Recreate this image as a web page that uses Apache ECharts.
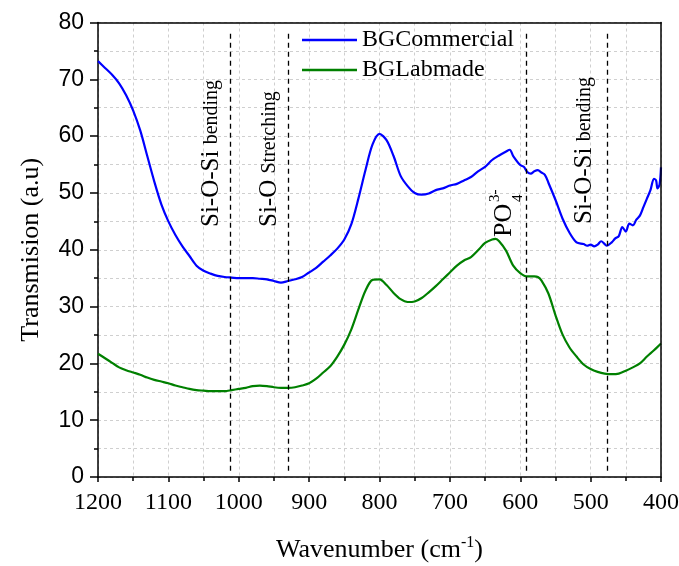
<!DOCTYPE html>
<html>
<head>
<meta charset="utf-8">
<script src="https://cdn.jsdelivr.net/npm/echarts@6/dist/echarts.min.js"></script>
<style>html,body{margin:0;padding:0;background:#fff;}#c{width:679px;height:566px;}</style>
</head>
<body>
<div id="c"></div>
<script>
const commercialWavenumber = [1200,1190,1180,1170,1160,1150,1140,1130,1120,1110,1100,1090,1080,1070,1060,1050,1040,1030,1020,1010,1000,990,980,970,960,950,940,930,920,910,900,890,880,870,860,850,840,830,820,810,800,790,780,770,760,750,740,730,720,710,700,690,680,670,660,650,640,630,620,615,610,600,595,590,585,580,575,570,565,560,550,540,530,520,510,505,500,495,490,485,480,477,470,465,460,455,450,445,440,435,430,425,420,415,410,407,405,402,400];
const commercialValues = [73.2,72.0,70.8,69.3,67.2,64.5,61.0,56.5,52.0,48.0,45.0,42.6,40.6,38.9,37.2,36.3,35.8,35.4,35.2,35.1,35.0,35.0,35.0,34.9,34.8,34.5,34.2,34.5,34.8,35.2,36.0,36.8,37.9,39.0,40.2,41.8,44.5,49.0,54.0,58.5,60.4,59.3,56.5,53.0,51.2,50.0,49.7,49.9,50.5,50.8,51.3,51.6,52.2,52.8,53.8,54.6,55.8,56.6,57.3,57.6,56.5,54.9,54.6,53.7,53.4,53.8,54.0,53.6,53.2,51.8,48.8,45.5,43.0,41.3,41.0,40.7,40.9,40.6,40.9,41.5,41.0,40.7,41.3,42.0,42.4,44.0,43.2,44.6,44.3,45.3,46.0,47.5,49.0,50.5,52.5,52.2,50.8,51.5,54.5];
const labmadeWavenumber = [1200,1190,1180,1170,1160,1150,1140,1130,1120,1110,1100,1090,1080,1070,1060,1050,1040,1030,1020,1010,1000,990,980,970,960,950,940,930,920,910,900,890,880,870,860,850,840,830,820,810,800,790,780,770,760,750,740,730,720,710,700,690,680,670,660,650,640,635,630,620,610,600,590,580,575,570,560,550,540,530,520,510,500,490,480,470,460,450,440,430,420,410,400];
const labmadeValues = [21.7,20.9,20.1,19.3,18.8,18.4,18.0,17.5,17.1,16.8,16.5,16.1,15.8,15.5,15.3,15.2,15.1,15.1,15.1,15.3,15.5,15.7,16.0,16.1,16.0,15.8,15.7,15.7,15.8,16.1,16.5,17.3,18.4,19.5,21.2,23.3,26.0,29.5,32.8,34.7,34.8,33.8,32.4,31.3,30.8,30.9,31.5,32.5,33.6,34.8,36.0,37.2,38.1,38.7,39.9,41.2,41.8,41.9,41.5,39.8,37.2,35.9,35.3,35.3,35.2,34.6,32.3,28.5,25.1,22.8,21.2,19.8,19.0,18.5,18.2,18.1,18.2,18.7,19.3,20.0,21.2,22.3,23.5];
const peakLines = [1012, 929, 592, 477];
const peakTop = 78, peakBottom = 0.6;
const seriesNames = ['BGCommercial', 'BGLabmade'];

const chart = echarts.init(document.getElementById('c'), null, {renderer: 'canvas'});
const zip = (xs, ys) => xs.map((x, i) => [x, ys[i]]);
const serif = 'Liberation Serif';
const sans = 'Liberation Sans';
const frameAxis = {show: true, onZero: false, lineStyle: {color: '#000', width: 1.5}};
const grayDash = {color: '#cfcfcf', type: [3, 3], width: 1};
const annRich = {
  a: {fontFamily: serif, fontSize: 25, fill: '#000', verticalAlign: 'bottom', lineHeight: 26},
  b: {fontFamily: serif, fontSize: 20, fill: '#000', verticalAlign: 'bottom', lineHeight: 26, padding: [0,0,2,0]}
};

const option = {
  animation: false,
  backgroundColor: '#fff',
  grid: {left: 98, right: 18, top: 22.5, bottom: 89, containLabel: false, outerBoundsMode: 'none'},
  legend: {
    orient: 'vertical', left: 297, top: 23, itemGap: 6, itemWidth: 55, itemHeight: 2.5,
    icon: 'rect', textStyle: {fontFamily: serif, fontSize: 24, color: '#000'},
    data: seriesNames
  },
  xAxis: [{
    type: 'value', inverse: true, min: 400, max: 1200, interval: 100,
    axisLine: frameAxis,
    axisTick: {show: true, inside: false, length: 5, lineStyle: {color: '#000', width: 1.5}},
    minorTick: {show: true, splitNumber: 2, length: 4, lineStyle: {color: '#000', width: 1.5}},
    splitLine: {show: true, lineStyle: grayDash},
    minorSplitLine: {show: true, lineStyle: grayDash},
    axisLabel: {fontFamily: serif, fontSize: 24, color: '#000', margin: 14, formatter: v => String(v)},
    name: 'Wavenumber (cm{sup|-1})', nameLocation: 'middle', nameGap: 58,
    nameTextStyle: {fontFamily: serif, fontSize: 26, color: '#000',
      rich: {sup: {fontFamily: serif, fontSize: 16, color: '#000', verticalAlign: 'top', padding: [0,0,14,0]}}}
  }, {
    type: 'value', position: 'top', inverse: true, min: 400, max: 1200, interval: 100,
    axisLine: frameAxis, axisTick: {show: false}, axisLabel: {show: false}, splitLine: {show: false}, z: 5
  }],
  yAxis: [{
    type: 'value', min: 0, max: 80, interval: 10,
    axisLine: frameAxis,
    axisTick: {show: true, inside: false, length: 8, lineStyle: {color: '#000', width: 1.5}},
    minorTick: {show: true, splitNumber: 2, length: 4, lineStyle: {color: '#000', width: 1.5}},
    splitLine: {show: true, lineStyle: grayDash},
    minorSplitLine: {show: true, lineStyle: grayDash},
    axisLabel: {fontFamily: sans, fontSize: 23, color: '#000', margin: 14},
    name: 'Transmision (a.u)', nameLocation: 'middle', nameGap: 54, nameRotate: 90,
    nameTextStyle: {fontFamily: serif, fontSize: 26, color: '#000'}
  }, {
    type: 'value', position: 'right', min: 0, max: 80, interval: 10,
    axisLine: frameAxis, axisTick: {show: false}, axisLabel: {show: false}, splitLine: {show: false}, z: 5
  }],
  series: [
    {
      name: seriesNames[0], type: 'line', data: zip(commercialWavenumber, commercialValues),
      showSymbol: false, symbol: 'none', smooth: 0.3, color: '#0000ff',
      lineStyle: {color: '#0000ff', width: 2.2}, z: 3,
      markLine: {
        silent: true, symbol: ['none', 'none'], label: {show: false},
        lineStyle: {color: '#000', type: [5, 4], width: 1.3},
        data: peakLines.map(w => [{coord: [w, peakTop]}, {coord: [w, peakBottom]}])
      }
    },
    {
      name: seriesNames[1], type: 'line', data: zip(labmadeWavenumber, labmadeValues),
      showSymbol: false, symbol: 'none', smooth: 0.3, color: '#008000',
      lineStyle: {color: '#008000', width: 2.2}, z: 3
    }
  ],
  graphic: [
    {type: 'text', x: 224, y: 227, rotation: Math.PI / 2, z: 10,
      style: {text: '{a|Si-O-Si }{b|bending}', align: 'left', verticalAlign: 'bottom', rich: annRich}},
    {type: 'text', x: 282, y: 227, rotation: Math.PI / 2, z: 10,
      style: {text: '{a|Si-O }{b|Stretching}', align: 'left', verticalAlign: 'bottom', rich: annRich}},
    {type: 'text', x: 517, y: 237, rotation: Math.PI / 2, z: 10,
      style: {text: 'PO', fontFamily: serif, fontSize: 26, fill: '#000', align: 'left', verticalAlign: 'bottom'}},
    {type: 'text', x: 526, y: 202, rotation: Math.PI / 2, z: 10,
      style: {text: '4', fontFamily: serif, fontSize: 15, fill: '#000', align: 'left', verticalAlign: 'bottom'}},
    {type: 'text', x: 503, y: 202, rotation: Math.PI / 2, z: 10,
      style: {text: '3-', fontFamily: serif, fontSize: 15, fill: '#000', align: 'left', verticalAlign: 'bottom'}},
    {type: 'text', x: 597, y: 224, rotation: Math.PI / 2, z: 10,
      style: {text: '{a|Si-O-Si }{b|bending}', align: 'left', verticalAlign: 'bottom', rich: annRich}}
  ]
};
chart.setOption(option);
</script>
</body>
</html>
